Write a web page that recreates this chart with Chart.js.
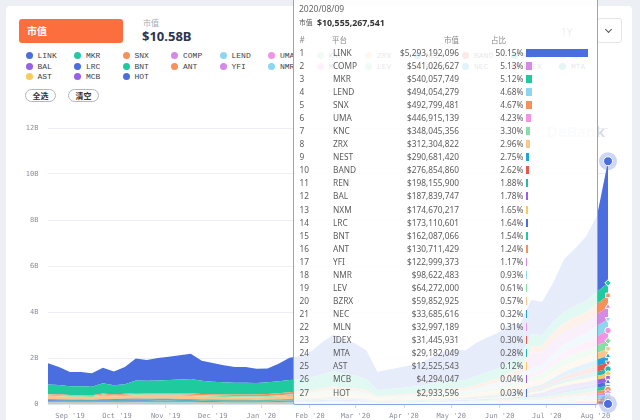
<!DOCTYPE html>
<html><head><meta charset="utf-8">
<script src="https://cdn.jsdelivr.net/npm/chart.js@4.4.1/dist/chart.umd.min.js"></script>
<style>
html,body{margin:0;padding:0;}
body{width:640px;height:420px;overflow:hidden;background:#eceff4;position:relative;font-family:"Noto Sans","Noto Sans CJK SC",sans-serif;}
.abs{position:absolute;}
#card{left:6px;top:6px;width:626px;height:430px;background:#fff;border-radius:4px;}
#orange{left:19px;top:19px;width:104px;height:24px;background:#fd6e3e;border-radius:3px;color:#fff;font-weight:bold;font-size:10px;line-height:24px;padding-left:8px;box-sizing:border-box;}
.btn{top:89px;width:31px;height:13px;border:1px solid #b3b7c2;border-radius:7px;box-sizing:border-box;font-size:8px;line-height:11px;text-align:center;color:#333;font-weight:bold;}
#chartwrap{left:0;top:110px;width:640px;height:310px;}
#tipbox{left:293px;top:-3px;width:305px;height:408px;box-sizing:border-box;border:1.5px solid #8aa3e6;background:rgba(255,255,255,0.87);border-radius:2px;z-index:5;}
#tip{left:0;top:0;width:640px;height:420px;z-index:6;}
#dd{left:597px;top:18px;width:25px;height:25px;box-sizing:border-box;border:1px solid #e1e4eb;border-radius:3px;}
#ddc{left:606px;top:27px;width:4px;height:4px;border-right:1.2px solid #555;border-bottom:1.2px solid #555;transform:rotate(45deg);}
</style></head>
<body>
<div id="card" class="abs"></div>
<div id="orange" class="abs">市值</div>
<div class="abs" style="left:143px;top:17px;font-size:8px;color:#a8abb5;">市值</div>
<div class="abs" style="left:142px;top:27px;font-size:13px;font-weight:bold;color:#2d3352;">$10.58B</div>
<div id="legend"></div>
<div class="abs btn" style="left:25px;">全选</div>
<div class="abs btn" style="left:68px;">清空</div>
<div class="abs" style="left:561px;top:25px;font-size:10px;color:#777;">1Y</div>
<div id="dd" class="abs"></div><div id="ddc" class="abs"></div>
<div id="chartwrap" class="abs"><canvas id="c" width="640" height="310"></canvas></div>
<div class="abs" style="left:520px;top:121px;width:85px;text-align:right;font-size:15px;color:#d9dce5;font-weight:bold;">DeBank</div>
<div id="tipbox" class="abs"></div>
<div id="tip" class="abs"></div>
<script>
// ---------- data (values in millions USD) ----------
const dates = ['2019-08-18','2019-08-25','2019-09-01','2019-09-08','2019-09-15','2019-09-22','2019-09-29','2019-10-06','2019-10-13','2019-10-20',
'2019-10-27','2019-11-03','2019-11-10','2019-11-17','2019-11-24','2019-12-01','2019-12-08','2019-12-15','2019-12-22','2019-12-29',
'2020-01-05','2020-01-12','2020-01-19','2020-01-26','2020-02-02','2020-02-09','2020-02-16','2020-02-23','2020-03-01','2020-03-08',
'2020-03-15','2020-03-22','2020-03-29','2020-04-05','2020-04-12','2020-04-19','2020-04-26','2020-05-03','2020-05-10','2020-05-17',
'2020-05-24','2020-05-31','2020-06-07','2020-06-14','2020-06-21','2020-06-28','2020-07-05','2020-07-12','2020-07-19','2020-07-26',
'2020-08-02','2020-08-09'];
const monthTicks = ['2019-09-01','2019-10-01','2019-11-01','2019-12-01','2020-01-01','2020-02-01','2020-03-01','2020-04-01','2020-05-01','2020-06-01','2020-07-01','2020-08-01'];
const monthLabels = ["Sep '19","Oct '19","Nov '19","Dec '19","Jan '20","Feb '20","Mar '20","Apr '20","May '20","Jun '20","Jul '20","Aug '20"];
const yTickLabels = ['0','2B','4B','6B','8B','10B','12B'];

const LINK = [920,780,620,620,580,670,600,750,950,900,980,1010,1050,1100,870,820,740,680,690,630,600,760,960,1020,
1150,1400,1600,1450,1400,1250,800,850,900,950,1000,1150,1300,1350,1300,1450,1500,1550,1600,1450,1500,1450,1700,2300,2500,2800,3300,5293.192096];
const MKR = [410,400,380,380,370,450,400,420,550,550,560,580,600,620,570,540,530,520,510,500,510,520,540,520,
560,620,650,600,560,480,250,270,260,270,290,320,340,350,330,380,420,430,500,520,520,460,460,470,480,500,520,540.057749];
const SNX = [30,30,28,30,32,38,34,38,45,48,50,52,55,58,58,60,62,65,70,75,80,85,90,95,
100,120,140,130,125,110,60,65,75,85,95,105,115,125,120,140,160,180,210,240,280,290,350,400,430,420,460,492.799481];
const COMP = [0,0,0,0,0,0,0,0,0,0,
0,0,0,0,0,0,0,0,0,0,
0,0,0,0,0,0,0,0,0,0,
0,0,0,0,0,0,0,0,0,0,
0,0,0,0,700,550,600,550,520,480,510,541.026627];
const LEND = [8,8,7,7,7,8,7,8,9,9,10,10,10,10,10,10,10,11,11,12,14,16,20,28,
40,55,70,65,60,50,30,35,40,45,50,60,70,80,80,100,120,140,170,180,200,210,260,300,330,380,430,494.054279];
const UMA = [0,0,0,0,0,0,0,0,0,0,
0,0,0,0,0,0,0,0,0,0,
0,0,0,0,0,0,0,0,0,0,
0,0,0,0,0,0,0,0,0,20,40,60,80,100,150,180,230,280,320,380,420,446.915139];
const KNC = [45,44,40,40,38,45,40,42,45,45,44,43,42,42,40,38,37,36,36,35,38,42,48,55,
60,70,80,75,70,60,35,40,45,55,60,70,75,80,80,95,110,140,160,180,200,220,280,330,320,300,320,348.045356];
const ZRX = [140,135,125,125,120,140,125,130,140,135,135,135,140,140,130,125,120,115,115,110,115,125,135,140,
150,170,190,170,165,150,90,95,100,105,110,120,130,135,130,150,170,190,240,230,250,240,260,280,270,260,290,312.304822];
const NEST = [8,8,8,8,8,9,9,9,10,10,10,10,10,10,10,10,10,10,10,10,11,12,13,14,
15,16,18,17,16,14,8,9,10,11,12,13,14,16,18,22,26,30,40,60,80,100,140,180,220,250,270,290.68142];
const BAND = [0,0,0,0,0,20,25,30,28,26,25,24,22,20,18,17,16,15,14,13,14,15,17,18,
20,22,25,22,20,18,10,12,14,16,18,20,22,25,28,30,35,40,50,60,70,80,110,160,200,230,250,276.85486];
const REN = [45,42,38,38,36,40,36,38,42,40,40,40,40,38,35,33,32,30,30,29,30,33,36,38,
40,45,50,45,42,38,22,24,26,28,30,35,40,45,45,55,60,65,75,80,90,95,110,130,150,170,185,198.1559];
const NXM = [4,4,4,4,4,4,4,4,5,5,5,5,5,5,5,5,5,5,5,5,6,6,7,7,
8,9,10,10,10,9,7,8,9,10,12,14,16,18,20,25,30,35,45,55,70,80,100,120,140,150,165,174.670217];
const BAL = [0,0,0,0,0,0,0,0,0,0,
0,0,0,0,0,0,0,0,0,0,
0,0,0,0,0,0,0,0,0,0,
0,0,0,0,0,0,0,0,0,0,
0,0,0,0,60,100,180,200,190,170,180,187.839747];
const LRC = [40,38,35,35,33,36,33,34,36,35,34,33,32,32,30,29,28,27,27,26,27,29,32,34,
36,40,45,40,38,34,20,22,24,26,28,30,32,35,35,40,45,50,60,65,70,75,90,110,130,150,160,173.110601];
const BNT = [35,33,30,30,29,32,30,31,32,31,30,30,29,28,27,26,25,24,24,23,24,25,27,28,
30,32,34,32,30,27,16,17,18,19,20,22,24,26,27,30,35,40,50,60,70,80,100,120,140,150,155,162.087066];
const ANT = [22,21,20,20,19,21,19,20,21,20,20,20,19,19,18,17,17,16,16,16,17,18,19,20,
21,23,25,23,22,20,12,13,14,15,16,18,20,22,24,28,32,36,45,55,60,65,80,90,100,110,120,130.711429];
const YFI = [0,0,0,0,0,0,0,0,0,0,
0,0,0,0,0,0,0,0,0,0,
0,0,0,0,0,0,0,0,0,0,
0,0,0,0,0,0,0,0,0,0,
0,0,0,0,0,0,0,0,10,40,90,122.999373];
const NMR = [22,21,20,20,19,21,19,20,22,22,22,22,22,21,20,19,19,18,18,18,19,20,22,24,
26,30,34,32,30,27,16,18,20,22,24,28,32,36,40,45,50,55,60,65,70,70,75,80,85,90,95,98.622483];
const MLN = [9,9,8,8,8,9,8,8,9,9,9,9,9,9,8,8,8,8,8,8,8,9,10,10,
11,12,13,12,12,11,6,7,7,8,8,9,10,11,11,12,14,16,18,20,22,22,25,28,30,31,32,32.997189];
const LEV = [5,5,5,5,5,5,5,5,5,5,5,5,5,5,5,5,5,5,5,5,5,5,5,5,
5,5,6,6,6,5,3,3,3,4,4,5,6,7,8,9,10,12,15,20,25,30,40,50,55,60,62,64.272];
const BZRX = [0,0,0,0,0,0,0,0,0,0,
0,0,0,0,0,0,0,0,0,0,
0,0,0,0,0,0,0,0,0,0,
0,0,0,0,0,0,0,0,0,0,
0,0,0,0,0,0,20,40,50,55,58,59.852925];
const NEC = [6,6,6,6,6,6,6,6,6,6,6,6,6,6,6,6,6,6,6,6,6,6,6,6,
6,6,7,7,6,6,3,3,3,4,4,4,5,5,5,6,7,8,10,12,14,16,20,24,28,30,32,33.685616];
const IDEX = [9,9,8,8,8,8,8,8,8,8,8,8,8,8,7,7,7,7,7,7,7,8,8,9,
9,10,10,10,9,8,5,5,6,6,6,7,7,8,8,9,10,11,13,15,17,18,22,25,27,29,30,31.445931];
const MTA = [0,0,0,0,0,0,0,0,0,0,
0,0,0,0,0,0,0,0,0,0,
0,0,0,0,0,0,0,0,0,0,
0,0,0,0,0,0,0,0,0,0,
0,0,0,0,0,0,0,10,20,25,28,29.182049];
const AST = [6,6,5,5,5,6,5,5,6,6,6,6,6,6,5,5,5,5,5,5,5,6,6,7,
7,8,9,8,8,7,4,4,5,5,5,6,6,7,7,8,8,9,10,10,11,11,12,12,12,13,12,12.525543];
const MCB = [0,0,0,0,0,0,0,0,0,0,
0,0,0,0,0,0,0,0,0,0,
0,0,0,0,0,0,0,0,0,0,
0,1,1,1,1,2,2,2,2,2,2,3,3,3,3,3,3,4,4,4,4,4.294047];
const HOT = [5,5,5,5,5,5,5,5,5,5,5,5,5,5,5,5,5,5,5,5,5,5,5,5,
5,5,5,5,5,4,2,2,2,2,2,3,3,3,3,3,3,3,3,3,3,3,3,3,3,3,3,2.933596];

const names = ['LINK','MKR','SNX','COMP','LEND','UMA','KNC','ZRX','NEST','BAND','REN','NXM',
               'BAL','LRC','BNT','ANT','YFI','NMR','MLN','LEV','BZRX','NEC','IDEX','MTA',
               'AST','MCB','HOT'];
const series = [LINK,MKR,SNX,COMP,LEND,UMA,KNC,ZRX,NEST,BAND,REN,NXM,BAL,LRC,BNT,ANT,YFI,NMR,MLN,LEV,BZRX,NEC,IDEX,MTA,AST,MCB,HOT];
const snapshotTotal = 10555267541;

// ---------- styles ----------
const palette = ['#4a6de0','#1fcb9e','#f7915b','#d48be6','#8cd6f0','#f294e4','#86dfa4','#fbc58e','#1fa5dd','#e6574c','#27b7ae','#f5cc5c','#9661e6'];
const colorOf = i => palette[i % palette.length];
const symStyles = ['circle','rectRot','rect','triangle','triangle'];
const symRot = [0,0,0,0,180];
const haloSet = {'LINK':'rgba(74,109,224,0.28)','HOT':'rgba(74,109,224,0.28)'};

// ---------- legend ----------
const legend = document.getElementById('legend');
names.forEach((n,i)=>{
  const col = i % 12, row = Math.floor(i/12);
  const d = document.createElement('div');
  d.className='abs';
  d.style.left=(25.5+col*48.5)+'px';
  d.style.top=(50+row*10.7)+'px';
  d.style.height='11px';
  d.style.whiteSpace='nowrap';
  d.innerHTML='<span style="position:absolute;left:0;top:2px;width:7px;height:7px;border-radius:50%;background:'+colorOf(i)+'"></span>'+
    '<span style="position:absolute;left:12px;top:0;line-height:11px;font-size:8px;font-family:\'Liberation Mono\',monospace;color:#3c3f4a;">'+n+'</span>';
  legend.appendChild(d);
});

// ---------- chart ----------
const dayOf = s => Date.parse(s+'T00:00:00Z')/864e5;
const xDays = dates.map(dayOf);
const tickDays = monthTicks.map(dayOf);
const last = dates.length-1;

const order = names.map((n,i)=>i).reverse(); // bottom -> top
const datasets = order.map((i,k)=>{
  const halo = haloSet[names[i]];
  const sty = (names[i]==='HOT') ? 'circle' : symStyles[i%5];
  return {
    label:names[i],
    data:series[i].map((v,j)=>({x:xDays[j],y:v})),
    backgroundColor:colorOf(i),
    borderColor:'rgba(0,0,0,0)',
    borderWidth:1,
    fill:k===0?'origin':'-1',
    tension:0,
    pointRadius:ctx=>ctx.dataIndex===last?(halo?4.5:3.2):0,
    pointStyle:sty,
    pointRotation:(names[i]==='HOT')?0:symRot[i%5],
    pointBackgroundColor:colorOf(i),
    pointBorderColor:'#ffffff',
    pointBorderWidth:1,
    clip:false,
    halo:halo
  };
});

const haloPlugin = {
  id:'halo',
  afterDatasetsDraw(chart){
    const ctx = chart.ctx;
    chart.data.datasets.forEach((ds,di)=>{
      if(!ds.halo) return;
      const meta = chart.getDatasetMeta(di);
      const pt = meta.data[meta.data.length-1];
      ctx.save();
      ctx.beginPath(); ctx.arc(pt.x,pt.y,9,0,Math.PI*2);
      ctx.fillStyle = ds.halo; ctx.fill();
      ctx.restore();
      pt.draw(ctx, chart.chartArea);
    });
  }
};

new Chart(document.getElementById('c'),{
  type:'line',
  data:{datasets},
  options:{
    responsive:false, animation:false, events:[],
    layout:{padding:{left:0,right:32,top:18,bottom:0}},
    plugins:{legend:{display:false},tooltip:{enabled:false}},
    scales:{
      x:{type:'linear',min:xDays[0],max:xDays[last],
        afterBuildTicks:s=>{s.ticks=tickDays.map(v=>({value:v}));},
        afterFit:s=>{s.height=16;},
        ticks:{autoSkip:false,maxRotation:0,padding:3.5,color:'#8a8f9c',font:{family:'DejaVu Sans Mono',size:7},
          callback:(v)=>{const k=tickDays.indexOf(v);return k>=0?monthLabels[k]:'';}},
        grid:{display:true,drawOnChartArea:false,drawTicks:true,tickLength:4,color:'#d3d7df'},
        border:{display:true,color:'#dfe2e9'}
      },
      y:{stacked:true,min:0,max:12000,
        afterFit:s=>{s.width=48;},
        ticks:{stepSize:2000,padding:9.5,color:'#8a8f9c',font:{family:'DejaVu Sans Mono',size:7},
          callback:v=>yTickLabels[Math.round(v/2000)]},
        grid:{color:'#eceef3',drawTicks:false},
        border:{display:false}
      }
    }
  },
  plugins:[haloPlugin]
});

// ---------- tooltip content ----------
const tip = document.getElementById('tip');
function txt(s,x,cy,o){
  const d=document.createElement('div');
  d.textContent=s;
  d.style.position='absolute';d.style.whiteSpace='nowrap';
  d.style.lineHeight='12px';d.style.height='12px';d.style.top=(cy-6)+'px';
  if(o.align==='right'){d.style.left=(x-200)+'px';d.style.width='200px';d.style.textAlign='right';}
  else d.style.left=x+'px';
  d.style.fontSize=o.size+'px';d.style.color=o.color;
  if(o.bold) d.style.fontWeight='bold';
  tip.appendChild(d);
}
const fmt = n => Math.round(n).toLocaleString('en-US');
txt(dates[last].replace(/-/g,'/'),299,8.5,{size:8.5,color:'#666'});
txt('市值',299,23.3,{size:6.8,color:'#555'});
txt('$'+fmt(snapshotTotal),317,23.3,{size:8.8,color:'#333',bold:true});
txt('#',299.5,39.5,{size:8,color:'#888'});
txt('平台',332,39.5,{size:7.5,color:'#888'});
txt('市值',459,39.5,{size:7.5,color:'#888',align:'right'});
txt('占比',491,39.5,{size:7.5,color:'#888'});
const ranked = names.map((n,i)=>({n,i,v:series[i][last]})).sort((a,b)=>b.v-a.v);
ranked.forEach((r,k)=>{
  const cy = 52.7 + k*13.07;
  const val = r.v*1e6;
  const pct = val/snapshotTotal*100;
  txt(String(k+1),299.5,cy,{size:8.3,color:'#5c5c5c'});
  txt(r.n,333,cy,{size:8.3,color:'#5c5c5c'});
  txt('$'+fmt(val),459,cy,{size:8.3,color:'#5c5c5c',align:'right'});
  txt(pct.toFixed(2)+'%',523.5,cy,{size:8.3,color:'#5c5c5c',align:'right'});
  const b=document.createElement('div');
  b.style.position='absolute';b.style.left='526px';b.style.top=(cy-4)+'px';
  b.style.height='8px';b.style.width=Math.max(pct*1.245,1.2)+'px';
  b.style.background=colorOf(r.i);
  tip.appendChild(b);
});
</script>
</body></html>
